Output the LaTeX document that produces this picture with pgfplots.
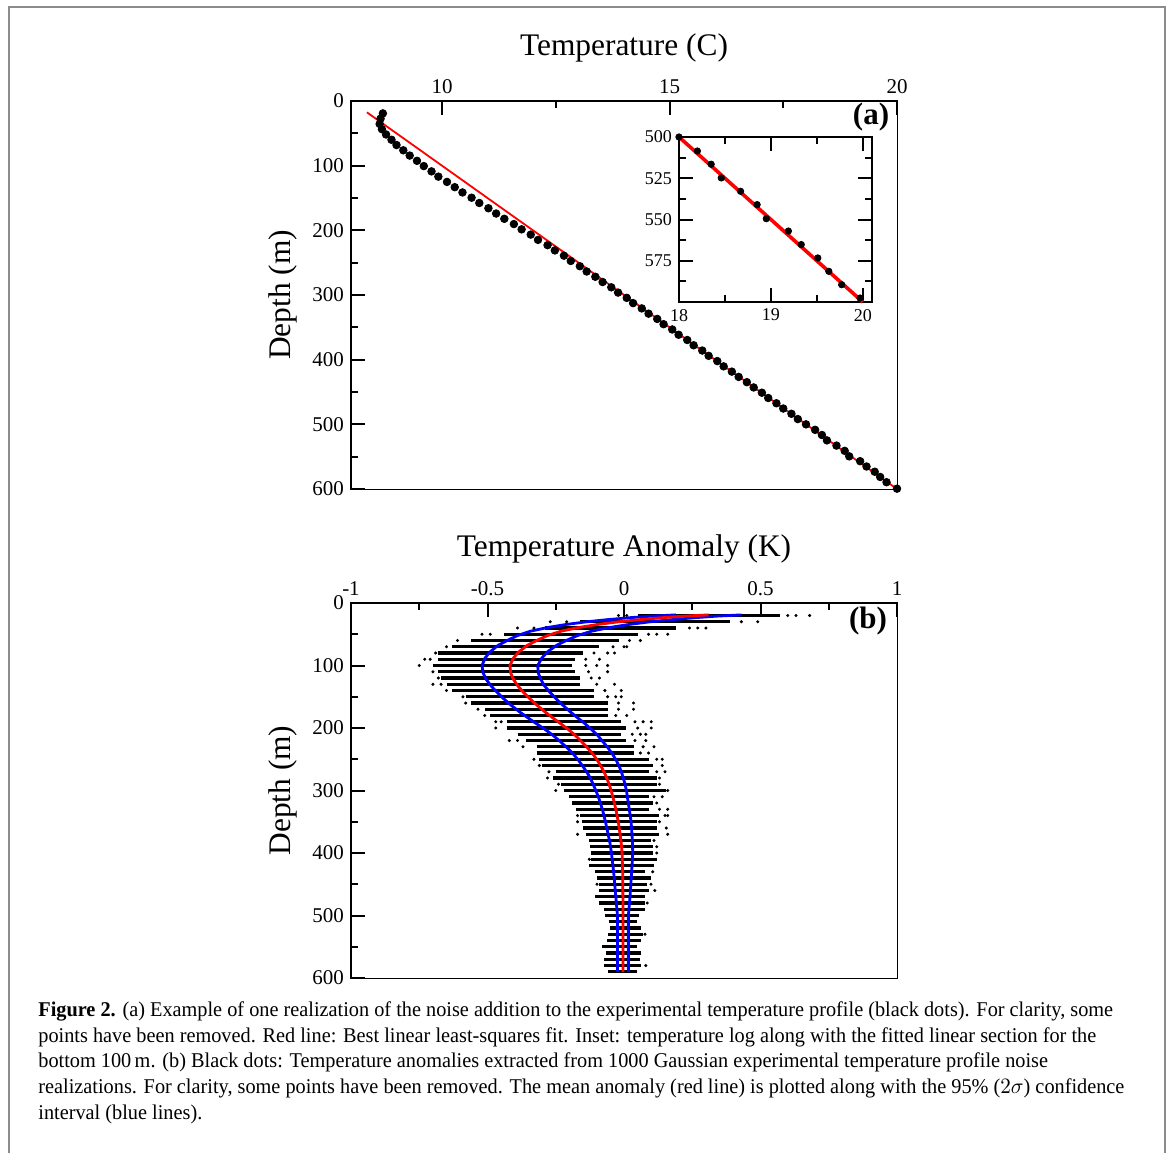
\documentclass[border=0pt]{standalone}
\usepackage{graphicx}
\usepackage{pgfplots}
\pgfplotsset{compat=1.18}
\usepackage{fontspec}
\setmainfont{Liberation Serif}
\definecolor{framegray}{HTML}{8C8C8C}
\pgfplotsset{
  chartbase/.style={
    scale only axis, y dir=reverse, clip=false,
    tick align=inside, major tick length=7pt, minor tick length=3.5pt,
    major tick style={black, line width=1pt},
    minor tick style={black, line width=1pt},
    /pgf/number format/assume math mode=true,
    ticklabel style={font=\fontsize{10.5}{12}\selectfont},
    label style={font=\fontsize{15.7}{18}\selectfont},
  }
}
\begin{document}
\begin{tikzpicture}[x=1pt,y=1pt]
\path[use as bounding box] (0,0) rectangle (584,-576.5);
\draw[line width=1.2pt, framegray] (4.5,-576.5) -- (4.5,-3.5) -- (582.5,-3.5) -- (582.5,-576.5);

% ---------------- Panel (a) ----------------
\begin{axis}[chartbase, name=pa, anchor=north west, at={(175.5pt,-50.5pt)},
  width=273pt, height=194pt,
  xmin=8, xmax=20, ymin=0, ymax=600,
  xtick={10,15,20}, minor x tick num=1,
  ytick={0,100,...,600}, minor y tick num=1,
  xtick pos=right, xticklabel pos=right, ytick pos=left,
  axis line style={line width=0.5pt},
  xlabel={Temperature (C)}, ylabel={Depth (m)},
  xlabel style={at={(axis description cs:0.5,1.137)}, anchor=center},
  ylabel style={at={(axis description cs:-0.1245,0.5)}, anchor=center},
]
\addplot[red, line width=0.9pt] coordinates {(8.35,17.5) (20,600)};
\addplot[only marks, mark=*, mark size=1.9pt, black] table[x=T, y=d] {
d T
19.15 8.70
27.3 8.65
35.45 8.63
43.6 8.68
51.75 8.77
59.9 8.89
68.05 9.00
76.2 9.15
84.35 9.29
92.5 9.45
100.65 9.60
108.8 9.77
116.95 9.92
125.1 10.11
133.25 10.28
141.4 10.45
149.55 10.65
157.7 10.82
165.85 11.02
174.0 11.19
182.15 11.37
190.3 11.58
198.45 11.75
206.6 11.95
214.75 12.11
222.9 12.32
231.05 12.48
239.2 12.68
247.35 12.83
255.5 13.03
263.65 13.18
271.8 13.37
279.95 13.53
288.1 13.72
296.25 13.87
304.4 14.06
312.55 14.20
320.7 14.39
328.85 14.54
337.0 14.73
345.15 14.87
353.3 15.06
361.45 15.20
369.6 15.39
377.75 15.53
385.9 15.72
394.05 15.86
402.2 16.05
410.35 16.19
418.5 16.37
426.65 16.52
434.8 16.70
442.95 16.85
451.1 17.03
459.25 17.17
467.4 17.35
475.55 17.50
483.7 17.68
491.85 17.82
500 18.00
508.5 18.20
516.5 18.35
524.8 18.46
532.9 18.67
541 18.85
549.5 18.95
557 19.19
565.2 19.33
573.3 19.51
581.4 19.63
589.5 19.77
599.5 20.00
};
\draw[line width=1.3pt, line cap=rect] (axis cs:8,600) -- (axis cs:8,0) -- (axis cs:20,0);
\end{axis}
\node[font=\fontsize{15.5}{18}\selectfont\bfseries] at (435.5,-58.5) {(a)};

% ---------------- Inset ----------------
\begin{axis}[chartbase, name=inset, anchor=north west, at={(339.5pt,-68.5pt)},
  width=96.5pt, height=82.5pt,
  xmin=18, xmax=20.1, ymin=500, ymax=600,
  xtick={18,19,20}, minor xtick={18.5,19.5},
  ytick={500,525,550,575}, minor ytick={512.5,537.5,562.5,587.5},
  xtick pos=both, ytick pos=both, xticklabel pos=left, yticklabel pos=left,
  axis line style={line width=1.2pt},
  ticklabel style={font=\fontsize{9}{10}\selectfont},
  axis background/.style={fill=white},
]
\addplot[red, line width=1.8pt] coordinates {(18,500) (20,600)};
\addplot[only marks, mark=*, mark size=1.6pt, black] table[x=T, y=d] {
d T
500 18.00
508.5 18.20
516.5 18.35
524.8 18.46
532.9 18.67
541 18.85
549.5 18.95
557 19.19
565.2 19.33
573.3 19.51
581.4 19.63
589.5 19.77
597.6 19.97
};
\end{axis}

% ---------------- Panel (b) ----------------
\begin{axis}[chartbase, name=pb, anchor=north west, at={(175.5pt,-301.5pt)},
  width=273pt, height=187.5pt,
  xmin=-1, xmax=1, ymin=0, ymax=600,
  xtick={-1,-0.5,0,0.5,1}, minor x tick num=1,
  ytick={0,100,...,600}, minor y tick num=1,
  xtick pos=right, xticklabel pos=right, ytick pos=left,
  axis line style={line width=0.5pt},
  xlabel={Temperature Anomaly (K)}, ylabel={Depth (m)},
  xlabel style={at={(axis description cs:0.5,1.144)}, anchor=center},
  ylabel style={at={(axis description cs:-0.1245,0.5)}, anchor=center},
]
% dense bands of the 1000 realizations (left edge L, width W)
\addplot[draw=none, mark=none, forget plot,
  error bars/.cd, x dir=plus, x explicit, error mark=none,
  error bar style={draw=black, line width=1.7pt}]
  table[x=L, y=d, x error=W] {
d L W
20 0.05 0.52
30 -0.16 0.55
40 -0.29 0.48
50 -0.44 0.49
60 -0.56 0.54
70 -0.63 0.54
80 -0.68 0.53
90 -0.68 0.50
100 -0.70 0.51
110 -0.68 0.50
120 -0.67 0.51
130 -0.65 0.49
140 -0.63 0.52
150 -0.58 0.47
160 -0.56 0.50
170 -0.51 0.45
180 -0.49 0.43
190 -0.43 0.42
200 -0.43 0.437
210 -0.39 0.38
220 -0.36 0.367
230 -0.32 0.355
240 -0.32 0.355
250 -0.31 0.40
260 -0.30 0.405
270 -0.25 0.34
280 -0.26 0.38
290 -0.23 0.35
300 -0.22 0.375
310 -0.20 0.29
320 -0.19 0.295
330 -0.176 0.266
340 -0.16 0.29
350 -0.155 0.275
360 -0.15 0.27
370 -0.14 0.27
380 -0.13 0.23
390 -0.125 0.23
400 -0.12 0.225
410 -0.12 0.24
420 -0.13 0.24
430 -0.106 0.183
440 -0.099 0.198
450 -0.092 0.177
460 -0.092 0.182
470 -0.106 0.183
480 -0.092 0.169
490 -0.075 0.152
500 -0.07 0.126
510 -0.056 0.105
520 -0.052 0.113
530 -0.06 0.13
540 -0.063 0.126
550 -0.08 0.129
560 -0.066 0.129
570 -0.072 0.132
580 -0.072 0.135
590 -0.06 0.106
};
% sparse outlying realizations
\addplot[only marks, mark=*, mark size=0.55pt, black] coordinates {
(-0.02,20) (0.01,20) (0.60,20) (0.63,20) (0.68,20)
(-0.27,30) (-0.21,30) (0.43,30) (0.49,30)
(-0.39,40) (-0.33,40) (0.24,40) (0.27,40) (0.30,40)
(-0.52,50) (-0.49,50) (0.09,50) (0.12,50) (0.16,50)
(-0.61,60) (0.02,60) (0.06,60)
(-0.65,70) (-0.04,70) (0.00,70) (0.01,70)
(-0.69,80) (-0.11,80) (-0.06,80) (-0.035,80)
(-0.73,90) (-0.71,90) (-0.14,90) (-0.09,90)
(-0.75,100) (-0.14,100) (-0.10,100) (-0.06,100)
(-0.70,110) (-0.13,110) (-0.06,110)
(-0.68,120) (-0.12,120) (-0.09,120)
(-0.70,130) (-0.67,130) (-0.10,130) (-0.035,130)
(-0.65,140) (-0.07,140) (-0.01,140)
(-0.59,150) (-0.06,150) (-0.03,150) (-0.01,150)
(-0.58,160) (-0.02,160) (0.035,160)
(-0.535,170) (-0.02,170) (0.035,170)
(-0.51,180) (-0.03,180) (0.01,180)
(-0.47,190) (-0.45,190) (0.04,190) (0.07,190) (0.10,190)
(-0.47,200) (0.05,200) (0.10,200)
(0.03,210) (0.06,210) (0.08,210)
(-0.42,220) (-0.39,220) (0.04,220) (0.08,220)
(-0.37,230) (0.07,230) (0.11,230)
(0.06,240) (0.09,240)
(-0.33,250) (0.12,250) (0.14,250)
(-0.31,260) (0.14,260)
(-0.275,270) (0.12,270) (0.15,270)
(-0.28,280) (0.13,280)
(-0.24,290) (0.13,290)
(-0.25,300) (0.16,300)
(0.11,310) (0.14,310)
(0.12,320)
(0.13,330) (0.16,330)
(-0.17,340) (0.15,340) (0.16,340)
(-0.17,350) (0.13,350)
(0.155,360)
(-0.17,370) (0.16,370)
(0.11,380)
(0.12,390)
(0.12,400)
(-0.127,410)
(0.105,430)
(-0.099,450) (0.099,450)
(0.113,460)
(0.085,480)
(0.077,530)
(0.08,580)
};
% 95% confidence interval (blue) and mean anomaly (red)
\addplot[blue, line width=1.4pt] table[x=lo, y=d] {
d lo
19 0.19
21 0.101
23.5 0.021
26.5 -0.058
30 -0.136
34.5 -0.215
39.5 -0.283
45 -0.342
52 -0.39
60 -0.428
68 -0.462
78 -0.49
88 -0.509
100 -0.52
112 -0.516
122 -0.505
132 -0.488
142 -0.467
153 -0.441
163 -0.415
174 -0.383
184 -0.351
193 -0.321
202 -0.29
211 -0.262
221 -0.235
231 -0.21
241 -0.187
252 -0.166
263 -0.148
275 -0.13
287 -0.116
300 -0.103
315 -0.09
332 -0.078
350 -0.068
368 -0.059
385 -0.051
400 -0.046
430 -0.038
470 -0.03
500 -0.024
590 -0.024
};
\addplot[blue, line width=1.4pt] table[x=hi, y=d] {
d hi
19 0.43
21 0.339
23.5 0.259
26.5 0.178
30 0.096
34.5 0.015
39.5 -0.057
45 -0.118
52 -0.17
60 -0.212
68 -0.248
78 -0.28
88 -0.301
100 -0.316
112 -0.314
122 -0.305
132 -0.292
142 -0.273
153 -0.249
163 -0.225
174 -0.197
184 -0.169
193 -0.143
202 -0.12
211 -0.098
221 -0.079
231 -0.06
241 -0.043
252 -0.028
263 -0.016
275 -0.006
287 0.002
300 0.009
315 0.014
332 0.02
350 0.026
368 0.029
385 0.031
400 0.032
430 0.028
470 0.022
500 0.016
590 0.016
};
\addplot[red, line width=1.4pt] table[x=mean, y=d] {
d mean
19 0.31
21 0.22
23.5 0.14
26.5 0.06
30 -0.02
34.5 -0.10
39.5 -0.17
45 -0.23
52 -0.28
60 -0.32
68 -0.355
78 -0.385
88 -0.405
100 -0.418
112 -0.415
122 -0.405
132 -0.39
142 -0.37
153 -0.345
163 -0.32
174 -0.29
184 -0.26
193 -0.232
202 -0.205
211 -0.18
221 -0.157
231 -0.135
241 -0.115
252 -0.097
263 -0.082
275 -0.068
287 -0.057
300 -0.047
315 -0.038
332 -0.029
350 -0.021
368 -0.015
385 -0.01
400 -0.007
430 -0.005
470 -0.004
500 -0.004
590 -0.004
};
\draw[line width=1.3pt, line cap=rect] (axis cs:-1,600) -- (axis cs:-1,0) -- (axis cs:1,0);
\end{axis}
\node[font=\fontsize{15.5}{18}\selectfont\bfseries] at (434,-310.5) {(b)};

% ---------------- Caption ----------------
\node[anchor=north west, inner sep=0pt] at (19,-499) {\resizebox{543pt}{\height}{\fontsize{10.5}{12.85}\selectfont
\begin{tabular}{@{}l@{}}
\textbf{Figure 2.} (a) Example of one realization of the noise addition to the experimental temperature profile (black dots). For clarity, some\\
points have been removed. Red line: Best linear least-squares fit. Inset: temperature log along with the fitted linear section for the\\
bottom 100\,m. (b) Black dots: Temperature anomalies extracted from 1000 Gaussian experimental temperature profile noise\\
realizations. For clarity, some points have been removed. The mean anomaly (red line) is plotted along with the 95\% ($2\sigma$) confidence\\
interval (blue lines).
\end{tabular}}};
\end{tikzpicture}
\end{document}
